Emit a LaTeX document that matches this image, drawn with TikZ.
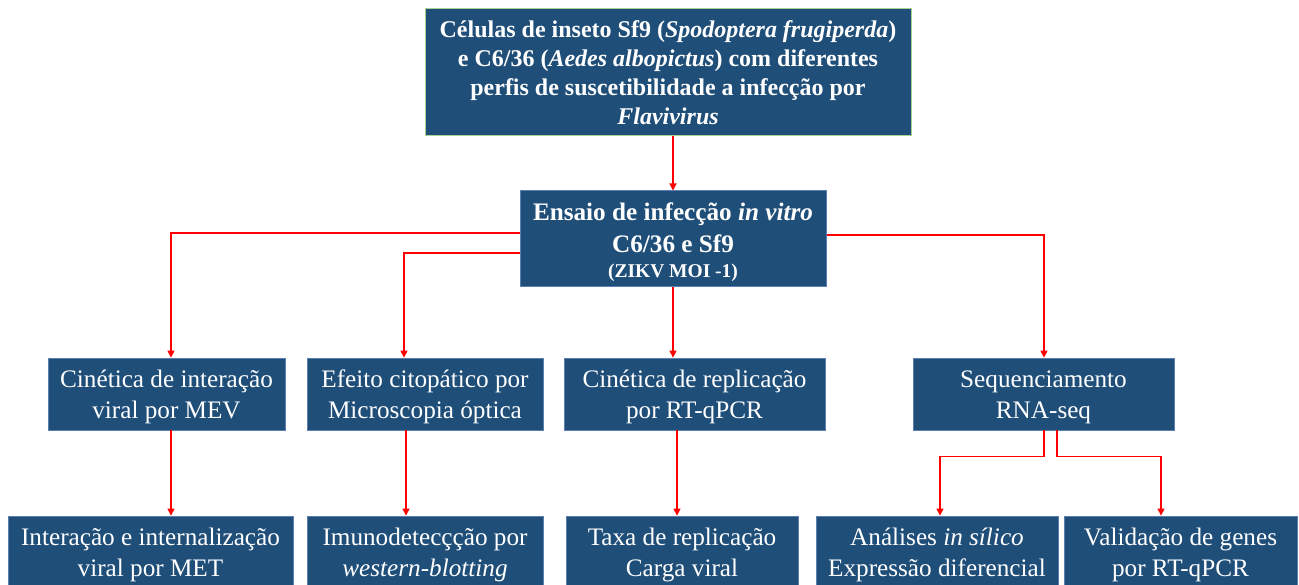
\documentclass[tikz,border=0pt]{standalone}
\usepackage{fontspec}
\setmainfont{Liberation Serif}
\usetikzlibrary{arrows.meta,positioning}
\definecolor{boxblue}{RGB}{31,78,121}
\definecolor{boxedge}{RGB}{91,127,181}
\definecolor{topedge}{RGB}{169,209,142}
\begin{document}
\begin{tikzpicture}[x=1pt, y=-1pt,
  main/.style = {draw=boxedge, line width=0.8pt, fill=boxblue, text=white, align=center, inner sep=0pt, minimum height=72pt, text height=51pt, text depth=3pt, font=\fontsize{25.2}{31}\selectfont},
  head/.style = {main, draw=topedge, line width=1pt, font=\fontsize{24}{29}\selectfont\bfseries},
  link/.style = {draw=red, line width=1.3pt, -{Triangle[width=7pt,length=7pt]}}]
\useasboundingbox (0,0) rectangle (1299,585);

\node[head, minimum width=486pt, minimum height=127pt, text height=111pt, text depth=6pt] (cells) at (668,72.5) {C\'elulas de inseto Sf9 (\textit{Spodoptera frugiperda})\\ e C6/36 (\textit{Aedes albopictus}) com diferentes\\ perfis de suscetibilidade a infec\c{c}\~ao por\\ \textit{Flavivirus}};
\node[head, draw=boxedge, minimum width=306pt, minimum height=96pt, text height=81pt, text depth=3pt, font=\fontsize{25.2}{32}\selectfont\bfseries] (assay) at (673,239) {Ensaio de infec\c{c}\~ao \textit{in vitro}\\ C6/36 e Sf9\\[-7pt] {\fontsize{19.5}{22}\selectfont (ZIKV MOI -1)}};

\node[main, minimum width=237pt] (kinMev) at (166.5,394) {Cin\'etica de intera\c{c}\~ao\\ viral por MEV};
\node[main, minimum width=236pt] (cytoEffect) at (425,394) {Efeito citop\'atico por\\ Microscopia \'optica};
\node[main, minimum width=261pt] (kinRep) at (694.5,394) {Cin\'etica de replica\c{c}\~ao\\ por RT-qPCR};
\node[main, minimum width=261pt] (rnaSeq) at (1043.5,394) {Sequenciamento\\ RNA-seq};

\node[main, minimum width=285pt] (metInt) at (150.5,552) {Intera\c{c}\~ao e internaliza\c{c}\~ao\\ viral por MET};
\node[main, minimum width=236pt] (western) at (425,552) {Imunodetec\c{c}\c{c}\~ao por\\ \textit{western-blotting}};
\node[main, minimum width=232pt] (repRate) at (682,552) {Taxa de replica\c{c}\~ao\\ Carga viral};
\node[main, minimum width=242pt] (inSilico) at (937,552) {An\'alises \textit{in s\'ilico}\\ Express\~ao diferencial};
\node[main, minimum width=233pt] (qpcrVal) at (1180.5,552) {Valida\c{c}\~ao de genes\\ por RT-qPCR};

\draw[link] ([xshift=5pt]cells.south) -- (assay.north);
\draw[link] ([yshift=6pt]assay.west) -| ([xshift=4.5pt]kinMev.north);
\draw[link] ([yshift=-14pt]assay.west) -| ([xshift=-21pt]cytoEffect.north);
\draw[link] (assay.south) -- (assay.south |- kinRep.north);
\draw[link] ([yshift=4pt]assay.east) -| ([xshift=0.5pt]rnaSeq.north);
\draw[link] ([xshift=4.5pt]kinMev.south) -- ([xshift=20.5pt]metInt.north);
\draw[link] ([xshift=-19pt]cytoEffect.south) -- ([xshift=-19pt]western.north);
\draw[link] ([xshift=-17.5pt]kinRep.south) -- ([xshift=-5pt]repRate.north);
\draw[link] ([xshift=0.5pt]rnaSeq.south) -- ++(0,26) -| ([xshift=3pt]inSilico.north);
\draw[link] ([xshift=13.5pt]rnaSeq.south) -- ++(0,26) -| ([xshift=-19.5pt]qpcrVal.north);
\end{tikzpicture}
\end{document}
